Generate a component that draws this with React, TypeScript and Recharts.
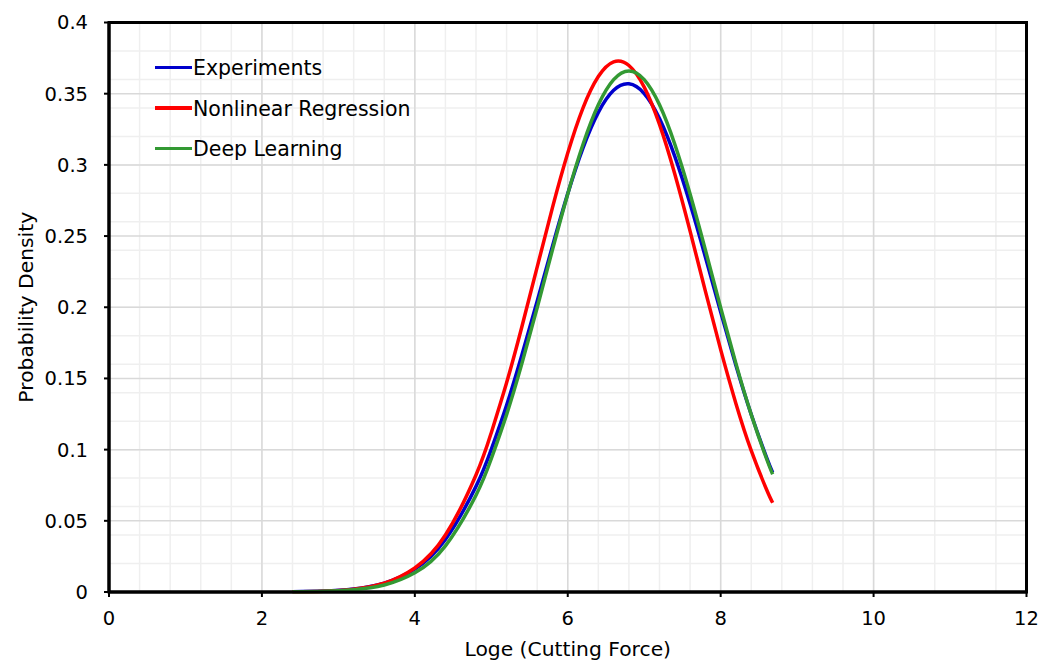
import React from 'react';
import {
  LineChart,
  Line,
  XAxis,
  YAxis,
  CartesianGrid,
  ReferenceArea,
} from 'recharts';

// log of cutting force
const xs = [
  2.4, 2.8, 3.2, 3.6, 4.0, 4.4, 4.8, 5.0, 5.2, 5.4, 5.6, 5.8, 6.0, 6.2, 6.4,
  6.6, 6.8, 7.0, 7.2, 7.4, 7.6, 7.8, 8.0, 8.2, 8.4, 8.6, 8.68,
];

const experiments = [
  0.00016, 0.00063, 0.0021, 0.0062, 0.0161, 0.0369, 0.0742, 0.1002, 0.1312,
  0.1664, 0.2043, 0.2429, 0.2798, 0.312, 0.3369, 0.3524, 0.3569, 0.3501,
  0.3326, 0.306, 0.2727, 0.2353, 0.1966, 0.1591, 0.1247, 0.0946, 0.084,
];

const nonlinear = [
  0.00013, 0.00055, 0.002, 0.0062, 0.0169, 0.04, 0.0822, 0.1119, 0.1469,
  0.1863, 0.2282, 0.27, 0.3083, 0.3401, 0.3621, 0.3724, 0.3698, 0.3546,
  0.3284, 0.2936, 0.2535, 0.2113, 0.1702, 0.1323, 0.0993, 0.072, 0.0627,
];

const deepLearning = [
  0.00011, 0.00044, 0.0016, 0.0049, 0.0135, 0.0324, 0.068, 0.0936, 0.1246,
  0.1604, 0.1997, 0.2403, 0.2796, 0.3145, 0.3422, 0.3599, 0.366, 0.3599,
  0.3422, 0.3145, 0.2796, 0.2403, 0.1997, 0.1604, 0.1246, 0.0936, 0.0827,
];

const xTicks = [0, 2, 4, 6, 8, 10, 12];
const yTicks = [0, 0.05, 0.1, 0.15, 0.2, 0.25, 0.3, 0.35, 0.4];

const SERIES = [
  { key: 'exp', name: 'Experiments', color: '#0000cc' },
  { key: 'nlr', name: 'Nonlinear Regression', color: '#ff0000' },
  { key: 'dl', name: 'Deep Learning', color: '#339933' },
];

const data = xs.map((x, i) => ({
  x,
  exp: experiments[i],
  nlr: nonlinear[i],
  dl: deepLearning[i],
}));

// minor grid every 0.4 on x, 0.01 on y
const minorX = Array.from({ length: 31 }, (_, i) => +(i * 0.4).toFixed(2));
const minorY = Array.from({ length: 41 }, (_, i) => +(i * 0.01).toFixed(2));

const FONT = '"DejaVu Sans", Verdana, sans-serif';

function LegendBox() {
  return (
    <div
      style={{
        position: 'absolute',
        left: 155,
        top: 47,
        fontFamily: FONT,
        fontSize: 20.5,
        color: '#000',
        lineHeight: 1,
      }}
    >
      {SERIES.map((s) => (
        <div
          key={s.key}
          style={{ display: 'flex', alignItems: 'center', height: 40.5 }}
        >
          <span
            style={{
              display: 'inline-block',
              width: 37,
              height: 3.5,
              background: s.color,
              marginRight: 1,
            }}
          />
          <span style={{ position: 'relative', top: 1 }}>{s.name}</span>
        </div>
      ))}
    </div>
  );
}

export default function App() {
  const tickStyle = { fill: '#000', fontSize: 19.5, fontFamily: FONT };
  return (
    <div
      style={{
        position: 'absolute',
        left: 0,
        top: 0,
        width: 1053,
        height: 662,
        background: '#fff',
      }}
    >
      <LineChart
        width={1053}
        height={662}
        data={data}
        margin={{ top: 22.5, right: 26.5, left: 0, bottom: 30 }}
      >
        <CartesianGrid
          stroke="#efefef"
          strokeWidth={1.5}
          verticalValues={minorX}
          horizontalValues={minorY}
        />
        <CartesianGrid stroke="#d9d9d9" strokeWidth={1.5} />
        <XAxis
          dataKey="x"
          type="number"
          domain={[0, 12]}
          ticks={xTicks}
          tick={tickStyle}
          tickLine={{ stroke: '#000', strokeWidth: 2 }}
          axisLine={{ stroke: '#000', strokeWidth: 3 }}
          tickSize={5}
          tickMargin={14}
          height={40}
          label={{
            value: 'Loge (Cutting Force)',
            position: 'insideBottom',
            offset: -24,
            style: { fill: '#000', fontSize: 20.3, fontFamily: FONT },
          }}
        />
        <YAxis
          type="number"
          domain={[0, 0.4]}
          ticks={yTicks}
          width={109}
          tick={tickStyle}
          tickLine={{ stroke: '#000', strokeWidth: 2 }}
          axisLine={{ stroke: '#000', strokeWidth: 3 }}
          tickSize={5}
          tickMargin={16}
          label={{
            value: 'Probability Density',
            angle: -90,
            position: 'insideLeft',
            offset: 26,
            style: {
              fill: '#000',
              fontSize: 20.3,
              fontFamily: FONT,
              textAnchor: 'middle',
            },
          }}
        />
        <ReferenceArea
          x1={0}
          x2={12}
          y1={0}
          y2={0.4}
          fill="none"
          stroke="#000"
          strokeWidth={3}
          ifOverflow="visible"
        />
        {SERIES.map((s) => (
          <Line
            key={s.key}
            type="natural"
            dataKey={s.key}
            name={s.name}
            stroke={s.color}
            strokeWidth={3.5}
            dot={false}
            isAnimationActive={false}
          />
        ))}
      </LineChart>
      <LegendBox />
    </div>
  );
}
